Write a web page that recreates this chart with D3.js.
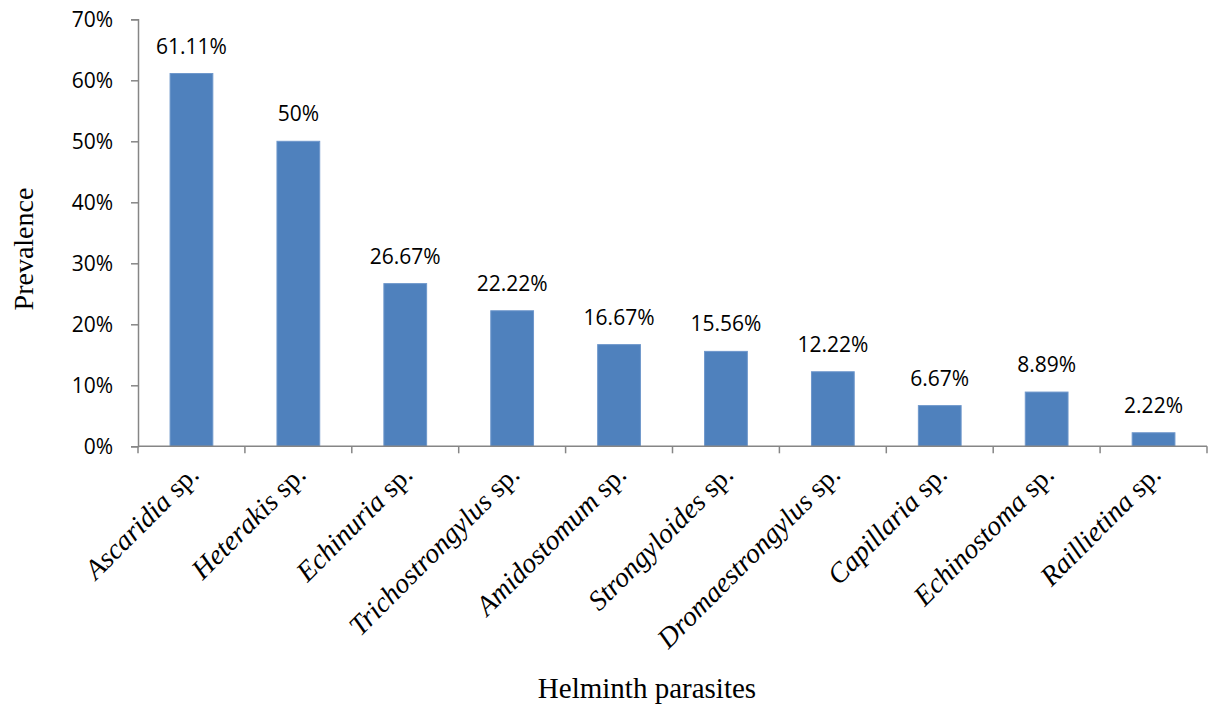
<!DOCTYPE html>
<html>
<head>
<meta charset="utf-8">
<script src="https://cdn.jsdelivr.net/npm/d3@7"></script>
<style>
  html, body { margin: 0; padding: 0; background: #fff; }
  svg { display: block; }
</style>
</head>
<body>
<svg id="chart" width="1211" height="708"></svg>
<script>
// genus names (italic) + "sp." suffix
const genera = ['Ascaridia', 'Heterakis', 'Echinuria', 'Trichostrongylus', 'Amidostomum',
  'Strongyloides', 'Dromaestrongylus', 'Capillaria', 'Echinostoma', 'Raillietina'];
const prevalence = [61.11, 50, 26.67, 22.22, 16.67, 15.56, 12.22, 6.67, 8.89, 2.22];
const valueLabels = ['61.11%', '50%', '26.67%', '22.22%', '16.67%', '15.56%', '12.22%', '6.67%', '8.89%', '2.22%'];
const yTicks = [0, 10, 20, 30, 40, 50, 60, 70];

const svg = d3.select('#chart');
const plotL = 138, plotR = 1207, plotT = 19.3, plotB = 446.3;

const x = d3.scaleBand().domain(genera).range([plotL, plotR]).paddingInner(0.6).paddingOuter(0.3);
const y = d3.scaleLinear().domain([0, 70]).range([plotB, plotT]);

const axisColor = '#868686';
const labelFont = '"Open Sans", "Noto Sans", sans-serif';
const serif = '"Liberation Serif", "Times New Roman", serif';

// bars
svg.append('g').selectAll('rect')
  .data(prevalence)
  .enter().append('rect')
  .attr('x', (d, i) => x(genera[i]))
  .attr('y', d => y(d))
  .attr('width', x.bandwidth())
  .attr('height', d => plotB - y(d))
  .attr('fill', '#4f81bd')
  .attr('stroke', '#6e97cb')
  .attr('stroke-width', 1);

// data labels
svg.append('g').selectAll('text')
  .data(prevalence)
  .enter().append('text')
  .attr('x', (d, i) => x(genera[i]) + x.bandwidth() / 2)
  .attr('y', d => y(d) - 20)
  .attr('text-anchor', 'middle')
  .attr('font-family', labelFont)
  .attr('font-size', 21)
  .attr('fill', '#000')
  .text((d, i) => valueLabels[i]);

// y axis
const yAxis = svg.append('g')
  .attr('transform', `translate(${plotL},0)`)
  .call(d3.axisLeft(y).tickValues(yTicks).tickSize(7).tickPadding(18).tickFormat(d => d + '%'));
yAxis.select('.domain').attr('stroke', axisColor).attr('stroke-width', 1.5);
yAxis.selectAll('.tick line').attr('stroke', axisColor).attr('stroke-width', 1.5);
yAxis.selectAll('.tick text')
  .attr('font-family', labelFont).attr('font-size', 21).attr('fill', '#000');

// x axis line + ticks at category boundaries
const boundaries = d3.range(genera.length + 1).map(i => plotL + i * (plotR - plotL) / genera.length);
svg.append('line')
  .attr('x1', plotL).attr('x2', plotR).attr('y1', plotB).attr('y2', plotB)
  .attr('stroke', axisColor).attr('stroke-width', 1.5);
svg.append('g').selectAll('line')
  .data(boundaries)
  .enter().append('line')
  .attr('x1', d => d).attr('x2', d => d)
  .attr('y1', plotB).attr('y2', plotB + 7)
  .attr('stroke', axisColor).attr('stroke-width', 1.5);

// rotated category labels
const cat = svg.append('g').selectAll('text')
  .data(genera)
  .enter().append('text')
  .attr('transform', d => `translate(${x(d) + x.bandwidth() / 2 + 9},${plotB + 30}) rotate(-45)`)
  .attr('text-anchor', 'end')
  .attr('font-family', serif)
  .attr('font-size', 28)
  .attr('fill', '#000');
cat.append('tspan').attr('font-style', 'italic').text(d => d);
cat.append('tspan').text(' sp.');

// axis titles
svg.append('text')
  .attr('transform', `translate(33,249) rotate(-90)`)
  .attr('text-anchor', 'middle')
  .attr('font-family', serif)
  .attr('font-size', 28)
  .text('Prevalence');

svg.append('text')
  .attr('x', 647).attr('y', 698)
  .attr('text-anchor', 'middle')
  .attr('font-family', serif)
  .attr('font-size', 29)
  .text('Helminth parasites');
</script>
</body>
</html>
